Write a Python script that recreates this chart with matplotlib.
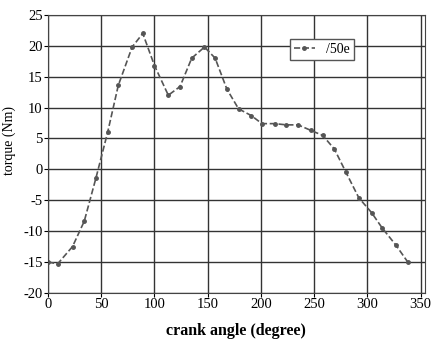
import matplotlib
matplotlib.use('Agg')
import matplotlib.pyplot as plt

# crank angle (degree) and torque (Nm)
angle = [0, 9, 23, 34, 45, 56, 66, 79, 89, 100, 113, 124, 135, 147, 157,
         168, 179, 191, 201, 213, 224, 235, 247, 258, 269, 280, 292, 304,
         314, 327, 338]
torque = [-15.0, -15.3, -12.5, -8.4, -1.4, 6.0, 13.6, 19.8, 22.0, 16.8,
          12.0, 13.4, 18.0, 19.8, 18.0, 13.0, 9.8, 8.7, 7.4, 7.4, 7.2, 7.2,
          6.3, 5.5, 3.3, -0.5, -4.6, -7.0, -9.5, -12.3, -15.0]
series_name = '/50e'

xticks = [0, 50, 100, 150, 200, 250, 300, 350]
yticks = [-20, -15, -10, -5, 0, 5, 10, 15, 20, 25]

plt.rcParams['font.family'] = ['Liberation Serif', 'DejaVu Serif']
plt.rcParams['axes.unicode_minus'] = False

fig = plt.figure(figsize=(4.33, 3.39), dpi=100)
ax = fig.add_axes([0.111, 0.136, 0.87, 0.82])

ax.plot(angle, torque, color='#555555', linestyle='--', linewidth=1.2,
        marker='o', markersize=2.5, label=series_name)

ax.set_xlim(0, 354)
ax.set_ylim(-20, 25)
ax.set_xticks(xticks)
ax.set_yticks(yticks)
ax.grid(True, color='#333333', linewidth=1.0)
ax.tick_params(labelsize=10.5, length=3, pad=1)
for s in ax.spines.values():
    s.set_color('#444444')

ax.set_xlabel('crank angle (degree)', fontsize=11.5, fontweight='bold',
              labelpad=8)
ax.set_ylabel('torque (Nm)', fontsize=10)
ax.yaxis.set_label_coords(-0.085, 0.55)

leg = ax.legend(loc='upper right', bbox_to_anchor=(0.83, 0.94), fontsize=10,
                fancybox=False, framealpha=1, edgecolor='#555555',
                handlelength=1.5, borderpad=0.3)

fig.savefig('out.png', dpi=100)
